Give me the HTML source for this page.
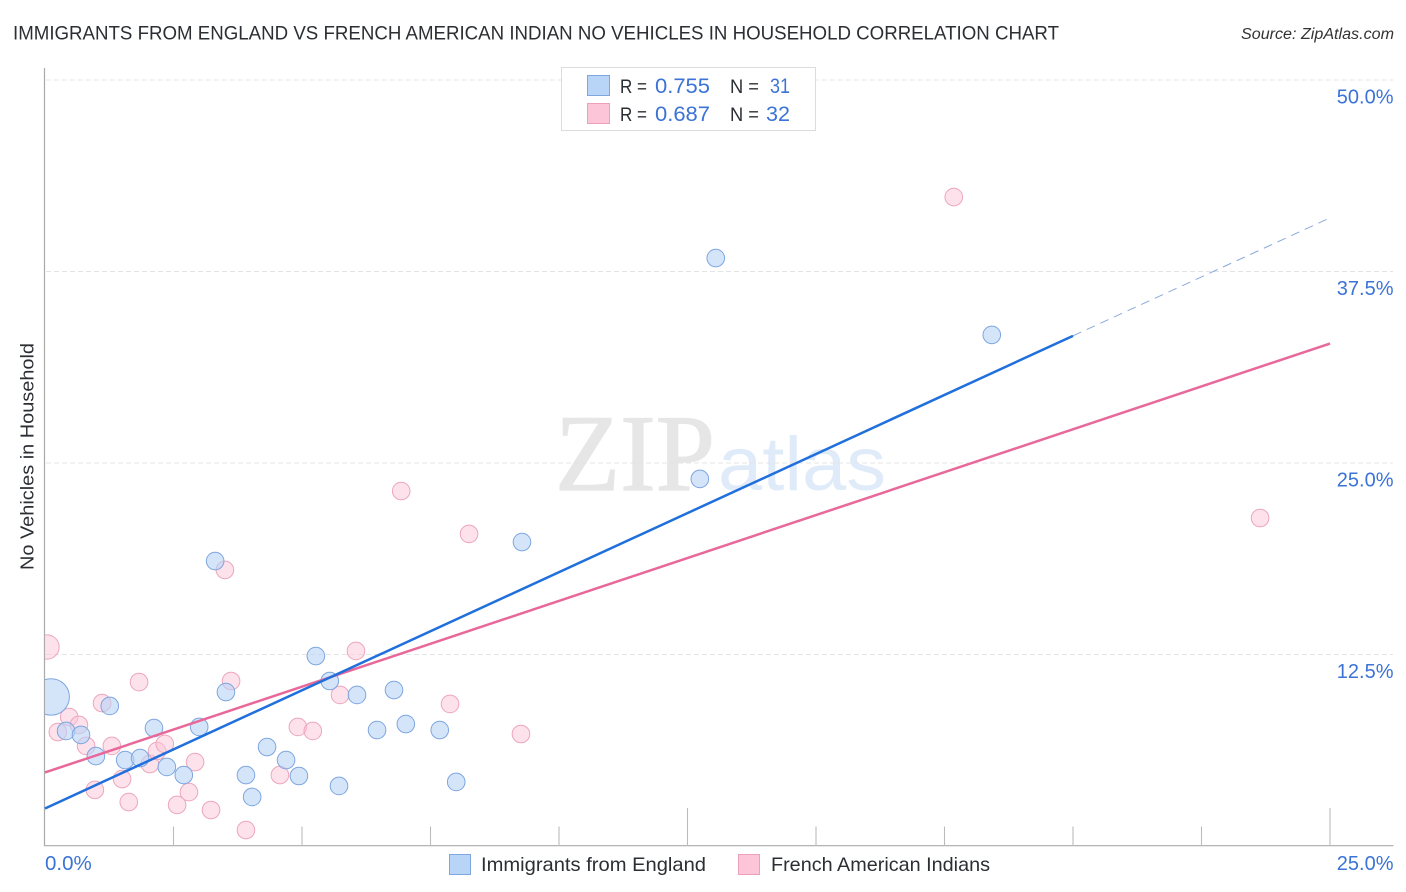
<!DOCTYPE html>
<html lang="en">
<head>
<meta charset="utf-8">
<title>Immigrants from England vs French American Indian No Vehicles in Household Correlation Chart</title>
<style>
html,body{margin:0;padding:0;background:#fff;}
svg{display:block;font-family:"Liberation Sans",sans-serif;}
</style>
</head>
<body>
<svg id="chart" width="1406" height="892" viewBox="0 0 1406 892" xmlns="http://www.w3.org/2000/svg">
  <defs><clipPath id="plot-clip"><rect x="45" y="60" width="1349" height="786"/></clipPath></defs>
  <text x="13" y="39.5" font-size="19.5" fill="#2b2e33" textLength="1046" lengthAdjust="spacingAndGlyphs">IMMIGRANTS FROM ENGLAND VS FRENCH AMERICAN INDIAN NO VEHICLES IN HOUSEHOLD CORRELATION CHART</text>
  <text x="1241" y="39" font-size="15.5" font-style="italic" fill="#333" textLength="153" lengthAdjust="spacingAndGlyphs">Source: ZipAtlas.com</text>
  <g>
    <text x="555" y="490" font-family="'Liberation Serif',serif" font-size="109" fill="#e6e6e6" stroke="#e6e6e6" stroke-width="1.2" textLength="160" lengthAdjust="spacingAndGlyphs">ZIP</text>
    <text x="718" y="490" font-size="76" fill="#e0ebfa" textLength="168" lengthAdjust="spacingAndGlyphs">atlas</text>
  </g>
  <g id="grid"></g>
  <g id="axes"></g>
  <g id="marks-pink" clip-path="url(#plot-clip)"></g>
  <g id="marks-blue" clip-path="url(#plot-clip)"></g>
  <g id="lines"></g>
  <text transform="translate(33.5,570) rotate(-90)" font-size="18.5" fill="#2b2e33" textLength="227" lengthAdjust="spacingAndGlyphs">No Vehicles in Household</text>
  <g id="ticklabels"></g>

  <g>
    <rect x="561.5" y="67.5" width="254" height="63" fill="#fff" stroke="#dcdcdc"/>
    <rect x="587.5" y="75.5" width="22" height="20" fill="#b8d4f7" stroke="#7ea6e0"/>
    <rect x="587.5" y="103.5" width="22" height="20" fill="#fcc5d8" stroke="#eda0b8"/>
    <text x="620" y="93" font-size="19.5" fill="#2b2e33" textLength="27" lengthAdjust="spacingAndGlyphs">R =</text>
    <text x="655" y="93" font-size="21" fill="#3b73d6" textLength="55" lengthAdjust="spacingAndGlyphs">0.755</text>
    <text x="730" y="93" font-size="19.5" fill="#2b2e33" textLength="29" lengthAdjust="spacingAndGlyphs">N =</text>
    <text x="770" y="93" font-size="21" fill="#3b73d6" textLength="20" lengthAdjust="spacingAndGlyphs">31</text>
    <text x="620" y="121" font-size="19.5" fill="#2b2e33" textLength="27" lengthAdjust="spacingAndGlyphs">R =</text>
    <text x="655" y="121" font-size="21" fill="#3b73d6" textLength="55" lengthAdjust="spacingAndGlyphs">0.687</text>
    <text x="730" y="121" font-size="19.5" fill="#2b2e33" textLength="29" lengthAdjust="spacingAndGlyphs">N =</text>
    <text x="766" y="121" font-size="21" fill="#3b73d6" textLength="24" lengthAdjust="spacingAndGlyphs">32</text>
  </g>

  <g>
    <g>
      <rect x="449.5" y="854.5" width="21" height="20" fill="#b8d4f7" stroke="#7ea6e0"/>
      <text x="481" y="871" font-size="19.5" fill="#2b2e33" textLength="225" lengthAdjust="spacingAndGlyphs">Immigrants from England</text>
    </g>
    <g>
      <rect x="738.5" y="854.5" width="21" height="20" fill="#fcc5d8" stroke="#eda0b8"/>
      <text x="771" y="871" font-size="19.5" fill="#2b2e33" textLength="219" lengthAdjust="spacingAndGlyphs">French American Indians</text>
    </g>
  </g>
</svg>
<script>
const xTicks = [0, 2.5, 5, 7.5, 10, 12.5, 15, 17.5, 20, 22.5, 25];
const xMajorTicks = [12.5, 25];
const xTickLabels = ["0.0%", "25.0%"];
const yTicks = [12.5, 25, 37.5, 50];
const yTickLabels = ["12.5%", "25.0%", "37.5%", "50.0%"];

const englandX = [0.12,0.41,0.70,0.99,1.26,1.56,1.85,2.12,2.37,2.70,3.00,3.52,3.31,3.91,4.03,4.32,4.69,4.94,5.27,5.54,5.72,6.07,6.46,6.79,7.02,7.68,8.00,9.28,12.74,13.05,18.42];
const englandY = [9.73,7.51,7.25,5.87,9.14,5.61,5.74,7.70,5.16,4.63,7.77,10.05,18.60,4.63,3.20,6.46,5.61,4.57,12.40,10.77,3.92,9.86,7.57,10.18,7.96,7.57,4.18,19.84,23.96,38.38,33.36];
const englandWeight = [4.3,1,1,1,1,1,1,1,1,1,1,1,1,1,1,1,1,1,1,1,1,1,1,1,1,1,1,1,1,1,1];

const frenchX = [0.04,0.25,0.47,0.66,0.80,0.97,1.11,1.30,1.50,1.63,1.83,2.04,2.18,2.33,2.57,2.80,2.92,3.23,3.50,3.62,3.91,4.57,4.92,5.21,5.74,6.05,6.93,7.88,8.25,9.26,17.68,23.64];
const frenchY = [12.99,7.44,8.42,7.90,6.53,3.66,9.33,6.53,4.37,2.87,10.70,5.35,6.20,6.66,2.68,3.52,5.48,2.35,18.02,10.77,1.04,4.63,7.77,7.51,9.86,12.73,23.17,9.27,20.37,7.31,42.36,21.41];
const frenchWeight = [1.9,1,1,1,1,1,1,1,1,1,1,1,1,1,1,1,1,1,1,1,1,1,1,1,1,1,1,1,1,1,1,1];

const englandTrendX = [0, 20];
const englandTrendY = [2.45, 33.3];
const englandDashX = [20, 25];
const englandDashY = [33.3, 41];
const frenchTrendX = [0, 25];
const frenchTrendY = [4.8, 32.8];

const NS = "http://www.w3.org/2000/svg";
const sx = v => 45 + v * (1285 / 25);
const sy = v => 846 - v * (766 / 50);
const radius = w => 8.8 * Math.sqrt(w);
function mk(parent, tag, attrs) {
  const el = document.createElementNS(NS, tag);
  for (const k in attrs) el.setAttribute(k, attrs[k]);
  parent.appendChild(el);
  return el;
}

const grid = document.getElementById("grid");
yTicks.forEach(t => {
  const l = mk(grid, "line", {x1: 46, x2: 1393, y1: sy(t), y2: sy(t), stroke: "#e4e4e4", "stroke-width": 1, "stroke-dasharray": "5 3"});
  
  
});

const axes = document.getElementById("axes");
const yAxis = mk(axes, "line", {x1: 44.5, x2: 44.5, y1: 68, y2: 846, stroke: "#aaa", "stroke-width": 1.2});


const xAxis = mk(axes, "line", {x1: 44, x2: 1393.5, y1: 845.7, y2: 845.7, stroke: "#aaa", "stroke-width": 1.2});


xTicks.slice(1).forEach(t => {
  const top = xMajorTicks.includes(t) ? 808 : 826.5;
  const l = mk(axes, "line", {x1: sx(t), x2: sx(t), y1: top, y2: 846, stroke: "#bcbcbc", "stroke-width": 1.1});
  
  
});

const labels = document.getElementById("ticklabels");
yTicks.forEach((t, i) => {
  const el = mk(labels, "text", {x: 1393.5, y: sy(t) + 23.5, "text-anchor": "end", "font-size": 20, fill: "#3b73d6"});
  
  
  el.textContent = yTickLabels[i];
});
const x0Label = mk(labels, "text", {x: 45, y: 870, "font-size": 20.5, fill: "#3b73d6"});


x0Label.textContent = xTickLabels[0];
const x1Label = mk(labels, "text", {x: 1393.5, y: 870, "text-anchor": "end", "font-size": 20, fill: "#3b73d6"});


x1Label.textContent = xTickLabels[1];

const pinkGroup = document.getElementById("marks-pink");
frenchX.forEach((x, i) => {
  const c = mk(pinkGroup, "circle", {cx: sx(x), cy: sy(frenchY[i]), r: radius(frenchWeight[i]), fill: "#fcc5d8", "fill-opacity": 0.5, stroke: "#eda6bc", "stroke-width": 1});
  
  
});
const blueGroup = document.getElementById("marks-blue");
englandX.forEach((x, i) => {
  const c = mk(blueGroup, "circle", {cx: sx(x), cy: sy(englandY[i]), r: radius(englandWeight[i]), fill: "#b8d4f7", "fill-opacity": 0.6, stroke: "#7ea6e0", "stroke-width": 1});
  
  
});

const lines = document.getElementById("lines");
const dash = mk(lines, "line", {x1: sx(englandDashX[0]), y1: sy(englandDashY[0]), x2: sx(englandDashX[1]), y2: sy(englandDashY[1]), stroke: "#8ba9dc", "stroke-width": 1, "stroke-dasharray": "9 6"});


const pinkTrend = mk(lines, "line", {x1: sx(frenchTrendX[0]), y1: sy(frenchTrendY[0]), x2: sx(frenchTrendX[1]), y2: sy(frenchTrendY[1]), stroke: "#e8689a", "stroke-width": 2.5});


const blueTrend = mk(lines, "line", {x1: sx(englandTrendX[0]), y1: sy(englandTrendY[0]), x2: sx(englandTrendX[1]), y2: sy(englandTrendY[1]), stroke: "#1f6fdc", "stroke-width": 2.5});


</script>
</body>
</html>
